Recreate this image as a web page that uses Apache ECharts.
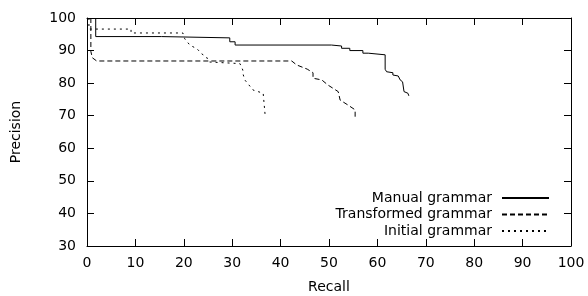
<!DOCTYPE html>
<html>
<head>
    <meta charset="utf-8">
    <title>Precision / Recall</title>
    <script src="https://cdn.jsdelivr.net/npm/echarts@6/dist/echarts.min.js"></script>
</head>
<style>
    body { margin: 0; background: #fff; }
</style>
<body>
    <div id="main" style="width: 588px;height:296px;"></div>
    <script type="text/javascript">
        // [recall, precision] points
        var manualGrammar = [
            [1.8, 100], [1.8, 94.3], [15.4, 94.3], [15.4, 93.9], [29.5, 93.9],
            [29.5, 92.7], [30.6, 92.7], [30.6, 91.7], [50.5, 91.7], [50.5, 91.4],
            [52.6, 91.4], [52.6, 90.7], [54.3, 90.7], [54.3, 90], [57, 90],
            [57, 89.2], [58.1, 89.2], [58.1, 88.95], [61.6, 88.7], [61.6, 84.25],
            [61.9, 83.5], [63.2, 83.2], [63.2, 82.5], [64.3, 82.2], [64.7, 81],
            [65.2, 80.4], [65.5, 77.4], [66.3, 76.9], [66.5, 76.1]
        ];
        var transformedGrammar = [
            [0.8, 100], [0.8, 89.7], [1.1, 89.7], [1.1, 87.8], [2, 86.8],
            [42.3, 86.8], [43.3, 85.6], [45.5, 84.3], [46.7, 83.2], [46.7, 81.5],
            [48.5, 81], [49.8, 79.4], [51.9, 77.4], [52.3, 74.8], [53.9, 73.3],
            [55.4, 71.8], [55.4, 69.3]
        ];
        var initialGrammar = [
            [0.4, 100], [0.4, 96.6], [9.1, 96.6], [9.1, 95.4], [19.8, 95.4],
            [20.2, 93.6], [21.3, 91.6], [22.7, 90.6], [23.7, 89], [24.7, 88],
            [25.2, 86.5], [31.6, 86], [32.2, 84], [32.2, 83], [32.6, 81],
            [34.3, 77.9], [36.4, 76.9], [36.8, 76.9], [36.8, 70.2]
        ];
        var seriesNames = ['Manual grammar', 'Transformed grammar', 'Initial grammar'];
        var seriesData = [manualGrammar, transformedGrammar, initialGrammar];
        var dashTypes = ['solid', [5, 3], [2, 4]];
        var legendRows = [198, 214.5, 231];

        var myChart = echarts.init(document.getElementById('main'));

        var font = 'DejaVu Sans';
        var axisCommon = {
            axisLine: { show: true, onZero: false, lineStyle: { color: '#000', width: 1 } },
            axisTick: { show: true, inside: true, length: 7, lineStyle: { color: '#000' } },
            splitLine: { show: false }
        };

        function xAxis(pos, labels) {
            return echarts.util.merge({
                type: 'value', position: pos, min: 0, max: 100, interval: 10,
                name: labels ? 'Recall' : '', nameLocation: 'middle', nameGap: 34,
                nameTextStyle: { fontFamily: font, fontSize: 14, color: '#000' },
                axisLabel: { show: labels, margin: 10, fontFamily: font, fontSize: 14, color: '#000' }
            }, axisCommon, false);
        }
        function yAxis(pos, labels) {
            return echarts.util.merge({
                type: 'value', position: pos, min: 30, max: 100, interval: 10,
                name: labels ? 'Precision' : '', nameLocation: 'middle', nameGap: 64,
                nameTextStyle: { fontFamily: font, fontSize: 14, color: '#000' },
                axisLabel: { show: labels, margin: 11, fontFamily: font, fontSize: 14, color: '#000' }
            }, axisCommon, false);
        }

        var option = {
            animation: false,
            grid: { left: 87, right: 17, top: 18, bottom: 50, outerBoundsMode: 'none', containLabel: false },
            xAxis: [xAxis('bottom', true), xAxis('top', false)],
            yAxis: [yAxis('left', true), yAxis('right', false)],
            legend: seriesNames.map(function (n, i) {
                return {
                    data: [n], right: 38, top: legendRows[i] - 7, padding: 0,
                    align: 'right', itemWidth: 47, itemHeight: 14,
                    selectedMode: false,
                    itemStyle: { opacity: 0 },
                    textStyle: { fontFamily: font, fontSize: 14, color: '#000', padding: [0, 5, 0, 0] }
                };
            }),
            series: seriesNames.map(function (n, i) {
                return {
                    name: n, type: 'line', data: seriesData[i],
                    symbol: 'none', silent: true,
                    lineStyle: { color: '#000', width: 1, type: dashTypes[i] },
                    itemStyle: { color: '#000' }
                };
            })
        };
        myChart.setOption(option);
    </script>
</body>
</html>
